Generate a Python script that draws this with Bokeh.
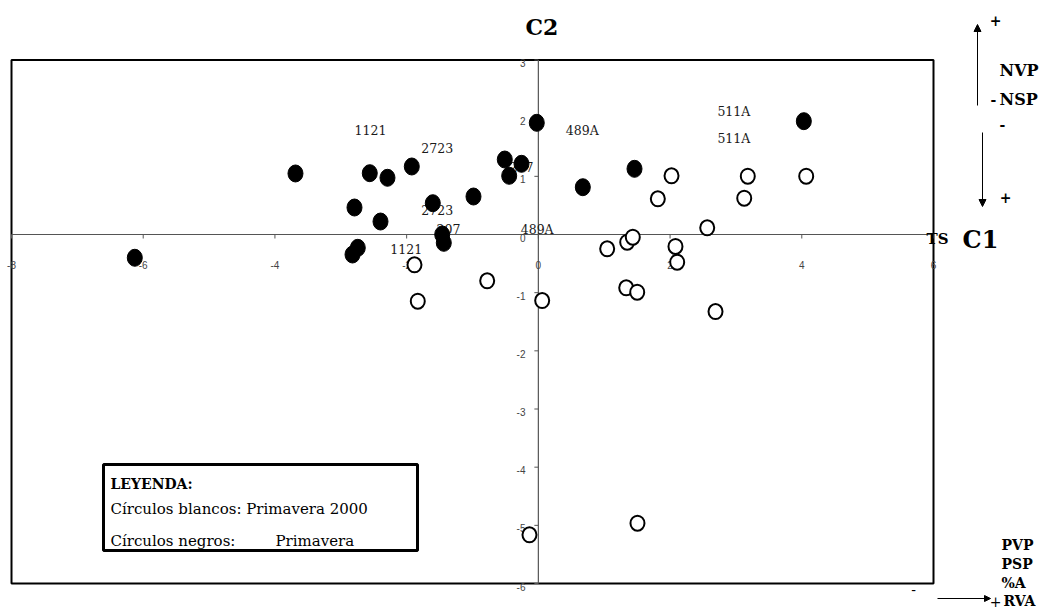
from bokeh.plotting import figure
from bokeh.models import Range1d, Arrow, NormalHead
from bokeh.embed import file_html
from bokeh.resources import INLINE
from bokeh.core.properties import value

# ---------------- data ----------------
black_x = [-6.128, -3.688, -2.792, -2.742, -2.822, -2.560, -2.397, -2.291, -1.922, -1.603,
           -1.460, -1.436, -0.985, -0.510, -0.443, -0.256, -0.024, 0.675, 1.460, 4.031]
black_y = [-0.400, 1.049, 0.464, -0.229, -0.344, 1.054, 0.223, 0.975, 1.169, 0.538,
           0.000, -0.143, 0.653, 1.289, 1.009, 1.215, 1.920, 0.813, 1.129, 1.948]

white_x = [-1.881, -1.831, -0.777, 0.058, 1.045, 1.349, 1.434, 1.334, 1.501, 1.814,
           2.022, 2.082, 2.108, 2.564, 2.690, 3.126, 3.180, 4.067, -0.135, 1.505]
white_y = [-0.521, -1.147, -0.796, -1.135, -0.246, -0.132, -0.046, -0.916, -0.992, 0.614,
           1.009, -0.206, -0.476, 0.115, -1.324, 0.624, 1.002, 1.002, -5.163, -4.963]

label_text = ["1121", "2723", "2723", "1121", "207", "207", "489A", "489A", "511A", "511A"]
label_x = [-2.549, -1.536, -1.536, -2.007, -0.256, -1.364, 0.666, -0.018, 2.968, 2.968]
label_y = [1.788, 1.490, 0.424, -0.246, 1.152, 0.086, 1.788, 0.086, 2.114, 1.645]

x_ticks = [-8, -6, -4, -2, 0, 2, 4, 6]
y_ticks = [3, 2, 1, 0, -1, -2, -3, -4, -5, -6]
x_min, x_max = -8, 6
y_min, y_max = -6, 3

# ------------- page pixel <-> data helpers (layout only) -------------
X0, SX = 537.86, 65.857
Y0, SY = 234.0, 58.17


def dx(px):
    return (px - X0) / SX


def dy(py):
    return (Y0 - py) / SY


W, H = 1044, 612
p = figure(width=W, height=H, output_backend="svg", toolbar_location=None,
           x_range=Range1d(dx(0), dx(W)), y_range=Range1d(dy(H), dy(0)),
           min_border=0, title=None)
p.axis.visible = False
p.grid.visible = False
p.outline_line_color = None
p.background_fill_color = "white"
p.border_fill_color = "white"

SERIF = value("DejaVu Serif")
SANS = value("Liberation Sans")

# frame box
p.quad(left=[x_min], right=[x_max], bottom=[y_min], top=[y_max],
       fill_color=None, line_color="black", line_width=2)

# axes through origin
p.segment(x0=[x_min], y0=[0], x1=[x_max], y1=[0], line_color="#555555", line_width=1.2)
p.segment(x0=[0], y0=[y_min], x1=[0], y1=[y_max], line_color="#555555", line_width=1.2)

# ticks
tl_y = 4 / SY
tl_x = 4 / SX
p.segment(x0=x_ticks, y0=[0] * len(x_ticks), x1=x_ticks, y1=[-tl_y] * len(x_ticks),
          line_color="#555555", line_width=1)
p.segment(x0=[0] * len(y_ticks), y0=y_ticks, x1=[-tl_x] * len(y_ticks), y1=y_ticks,
          line_color="#555555", line_width=1)

# tick labels
p.text(x=x_ticks, y=[-30 / SY] * len(x_ticks), text=[str(t) for t in x_ticks],
       text_font=SANS, text_font_size="10px", text_color="#444444",
       text_align="center", text_baseline="middle")
p.text(x=[dx(525)] * len(y_ticks), y=[t - 3 / SY for t in y_ticks], text=[str(t) for t in y_ticks],
       text_font=SANS, text_font_size="10px", text_color="#444444",
       text_align="right", text_baseline="middle")

# point labels
p.text(x=label_x, y=label_y, text=label_text, text_font=SERIF, text_font_size="12.5px",
       text_color="#1a1a1a", text_align="center", text_baseline="middle")

# points
p.ellipse(x=white_x, y=white_y, width=14, height=15, width_units="screen", height_units="screen",
          fill_color="white", line_color="black", line_width=2)
p.ellipse(x=black_x, y=black_y, width=15, height=17, width_units="screen", height_units="screen",
          fill_color="black", line_color="black", line_width=1)

# axis titles
p.text(x=[dx(541.5)], y=[dy(26)], text=["C2"], text_font=SERIF,
       text_font_style="bold", text_font_size="22px", text_color="black",
       text_align="center", text_baseline="middle")
p.text(x=[dx(980)], y=[dy(239)], text=["C1"], text_font=SERIF, text_font_style="bold",
       text_font_size="24px", text_color="black", text_align="center", text_baseline="middle")
p.text(x=[dx(937)], y=[dy(238)], text=["TS"], text_font=SERIF, text_font_style="bold",
       text_font_size="15px", text_color="black", text_align="center", text_baseline="middle")

# right-side annotations (top)
p.add_layout(Arrow(end=NormalHead(size=7, fill_color="black", line_color="black"),
                   x_start=dx(977), y_start=dy(105), x_end=dx(977), y_end=dy(24),
                   line_color="black", line_width=1))
p.add_layout(Arrow(end=NormalHead(size=7, fill_color="black", line_color="black"),
                   x_start=dx(982), y_start=dy(132), x_end=dx(982), y_end=dy(206),
                   line_color="black", line_width=1))
p.text(x=[dx(995), dx(993), dx(1002), dx(1005)], y=[dy(20), dy(99), dy(124), dy(197)],
       text=["+", "-", "-", "+"], text_font=SERIF, text_font_style="bold", text_font_size="14px",
       text_color="black", text_align="center", text_baseline="middle")
p.text(x=[dx(999), dx(999)], y=[dy(70), dy(99)], text=["NVP", "NSP"], text_font=SERIF,
       text_font_style="bold", text_font_size="16px", text_color="black",
       text_align="left", text_baseline="middle")

# right-side annotations (bottom)
p.text(x=[dx(1001)] * 3, y=[dy(544), dy(563), dy(582)], text=["PVP", "PSP", "%A"], text_font=SERIF,
       text_font_style="bold", text_font_size="14px", text_color="black",
       text_align="left", text_baseline="middle")
p.text(x=[dx(1003)], y=[dy(600)], text=["RVA"], text_font=SERIF,
       text_font_style="bold", text_font_size="14px", text_color="black",
       text_align="left", text_baseline="middle")
p.text(x=[dx(913), dx(995)], y=[dy(589), dy(601)], text=["-", "+"], text_font=SERIF,
       text_font_size="14px", text_color="black", text_align="center", text_baseline="middle")
p.add_layout(Arrow(end=NormalHead(size=6, fill_color="black", line_color="black"),
                   x_start=dx(937), y_start=dy(598), x_end=dx(990), y_end=dy(598),
                   line_color="black", line_width=1))

# legend box
p.quad(left=[dx(103)], right=[dx(417)], top=[dy(464)], bottom=[dy(550)],
       fill_color="white", line_color="black", line_width=3)
p.text(x=[dx(110)], y=[dy(483)], text=["LEYENDA:"], text_font=SERIF, text_font_style="bold",
       text_font_size="14px", text_color="black", text_align="left", text_baseline="middle")
p.text(x=[dx(110), dx(110), dx(275)], y=[dy(508), dy(540), dy(540)],
       text=["Círculos blancos: Primavera 2000", "Círculos negros:", "Primavera"],
       text_font=SERIF, text_font_size="15px", text_color="black",
       text_align="left", text_baseline="middle")

open("out.html", "w").write(file_html(p, INLINE))
